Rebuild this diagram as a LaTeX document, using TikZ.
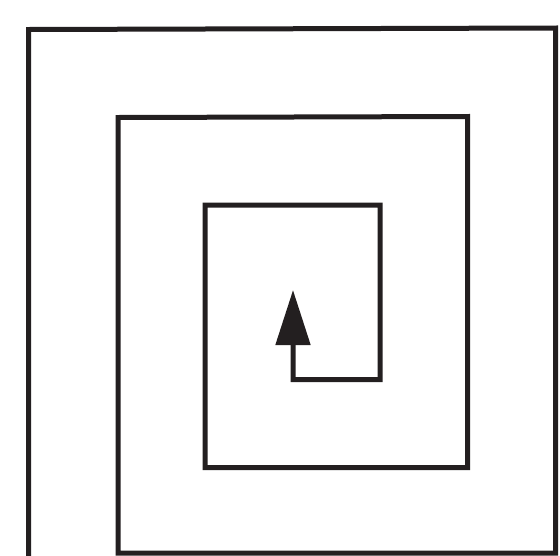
\documentclass[tikz,border=0pt]{standalone}
\usetikzlibrary{arrows.meta}
\tikzset{spiral/.style={line width=5pt, draw={rgb,255:red,35;green,31;blue,32}, line join=miter, line cap=butt}}
\begin{document}
\begin{tikzpicture}[x=1pt,y=-1pt]
\useasboundingbox (0,0) rectangle (560,555);
\draw[spiral, -{Triangle[length=55pt,width=34pt]}]
  (28.5,560) -- (28.5,29.5) -- (555.5,28) -- (555.5,553) -- (118,553)
  -- (118,117.5) -- (467.5,116.5) -- (467.5,467.5) -- (205,467.5)
  -- (205,205) -- (380,205) -- (380,379.5) -- (293,379.5) -- (293,290);
\end{tikzpicture}
\end{document}
